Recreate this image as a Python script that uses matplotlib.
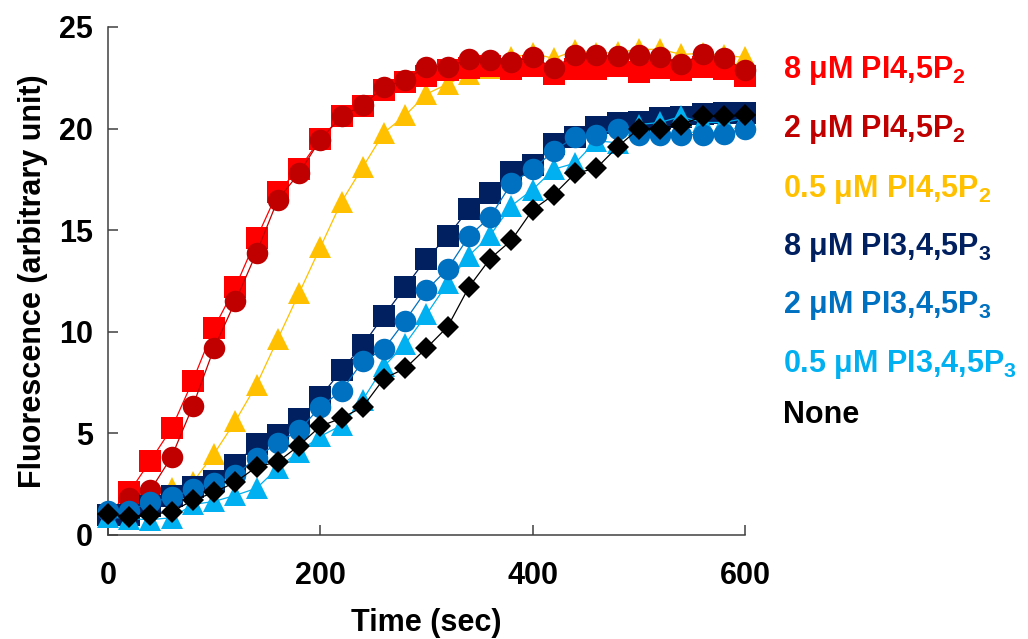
import matplotlib
matplotlib.use("Agg")
import matplotlib.pyplot as plt

plt.rcParams["font.family"] = ["Liberation Sans", "DejaVu Sans"]
plt.rcParams["font.weight"] = "bold"
plt.rcParams["mathtext.fontset"] = "custom"
plt.rcParams["mathtext.rm"] = "Liberation Sans:bold"
plt.rcParams["mathtext.bf"] = "Liberation Sans:bold"
plt.rcParams["mathtext.default"] = "bf"

time_sec = list(range(0, 601, 20))

pip2_8uM = [1.0, 2.1, 3.65, 5.25, 7.6, 10.2, 12.2, 14.6, 16.9, 18.0, 19.5,
            20.6, 21.1, 21.9, 22.3, 22.6, 22.9, 23.0, 23.1, 22.95, 23.1,
            22.7, 22.95, 22.95, 23.1, 22.8, 23.0, 22.9, 23.05, 22.95, 22.6]
pip2_2uM = [1.1, 1.8, 2.2, 3.85, 6.35, 9.2, 11.5, 13.9, 16.5, 17.8, 19.45,
            20.6, 21.15, 22.05, 22.4, 23.05, 23.05, 23.4, 23.35, 23.3, 23.5,
            23.0, 23.6, 23.6, 23.55, 23.6, 23.5, 23.2, 23.65, 23.45, 22.9]
pip2_05uM = [1.0, 1.1, 1.5, 2.3, 2.6, 4.0, 5.6, 7.4, 9.65, 11.9, 14.15,
             16.4, 18.1, 19.8, 20.65, 21.7, 22.2, 22.7, 23.0, 23.5, 23.7,
             23.45, 23.85, 23.7, 23.75, 23.9, 23.9, 23.65, 23.7, 23.6, 23.5]
pip3_8uM = [1.0, 1.0, 1.45, 1.9, 2.35, 2.65, 3.45, 4.5, 4.9, 5.7, 6.8,
            8.1, 9.35, 10.8, 12.2, 13.6, 14.7, 16.05, 16.85, 17.85, 18.2,
            19.25, 19.6, 20.1, 20.25, 20.3, 20.5, 20.55, 20.7, 20.75, 20.75]
pip3_2uM = [1.2, 1.2, 1.6, 1.85, 2.25, 2.55, 2.95, 3.8, 4.55, 5.15, 6.3,
            7.1, 8.55, 9.15, 10.55, 12.05, 13.1, 14.7, 15.65, 17.3, 18.0,
            18.9, 19.6, 19.7, 20.0, 19.7, 19.7, 19.7, 19.7, 19.75, 20.0]
pip3_05uM = [0.9, 0.8, 0.75, 0.85, 1.5, 1.65, 1.95, 2.3, 3.3, 4.1, 4.85,
             5.4, 6.65, 8.3, 9.4, 10.85, 12.4, 13.75, 14.75, 16.2, 17.0,
             18.0, 18.3, 19.4, 19.3, 20.2, 20.3, 20.6, 20.3, 20.3, 20.5]
no_lipid = [1.05, 0.9, 1.0, 1.15, 1.7, 2.1, 2.6, 3.35, 3.6, 4.4, 5.35,
            5.75, 6.3, 7.7, 8.2, 9.2, 10.25, 12.2, 13.6, 14.5, 16.0,
            16.75, 17.8, 18.05, 19.1, 20.0, 20.0, 20.2, 20.6, 20.6, 20.65]

labels = ["8 μM PI4,5P$_2$", "2 μM PI4,5P$_2$", "0.5 μM PI4,5P$_2$",
          "8 μM PI3,4,5P$_3$", "2 μM PI3,4,5P$_3$", "0.5 μM PI3,4,5P$_3$",
          "None"]
colors = ["#FF0000", "#C00000", "#FFC000", "#002060", "#0070C0", "#00B0F0", "#000000"]

# (series, marker, size, zorder) -- drawing order as in the original
series = [
    (pip2_05uM, "^", 15.5, 3),
    (pip2_8uM, "s", 15.5, 4),
    (pip2_2uM, "o", 15.5, 5),
    (pip3_8uM, "s", 15.5, 6),
    (pip3_05uM, "^", 15.5, 7),
    (pip3_2uM, "o", 15.5, 8),
    (no_lipid, "D", 11.5, 9),
]
series_colors = [colors[2], colors[0], colors[1], colors[3], colors[5], colors[4], colors[6]]

fig = plt.figure(figsize=(10.28, 6.39), dpi=100)
ax = fig.add_axes([0.105, 0.1628, 0.6197, 0.795])

for (vals, mk, ms, z), c in zip(series, series_colors):
    ax.plot(time_sec, vals, color=c, lw=0.9, marker=mk, ms=ms,
            markeredgewidth=0, zorder=z, clip_on=False)

ax.set_xlim(0, 600)
ax.set_ylim(0, 25)
ax.set_xticks([0, 200, 400, 600])
ax.set_yticks([0, 5, 10, 15, 20, 25])
for side in ["top", "right"]:
    ax.spines[side].set_visible(False)
for side in ["left", "bottom"]:
    ax.spines[side].set_color("#404040")
    ax.spines[side].set_linewidth(1.1)
ax.tick_params(axis="both", direction="in", length=7, width=1.1,
               color="#404040", labelsize=22)
ax.tick_params(axis="y", pad=11)
ax.tick_params(axis="x", pad=19)
for lab in ax.get_xticklabels() + ax.get_yticklabels():
    lab.set_fontweight("bold")

ax.set_xlabel("Time (sec)", fontsize=22, fontweight="bold", labelpad=12)
ax.set_ylabel("Fluorescence (arbitrary unit)", fontsize=22, fontweight="bold", labelpad=8)

baselines_px = [78, 137, 197, 255, 313, 372, 423]
for lab, c, py in zip(labels, colors, baselines_px):
    fig.text(783 / 1028, 1 - py / 639, lab, color=c, fontsize=22,
             fontweight="bold", va="baseline", ha="left")

fig.savefig("out.png", dpi=100)
